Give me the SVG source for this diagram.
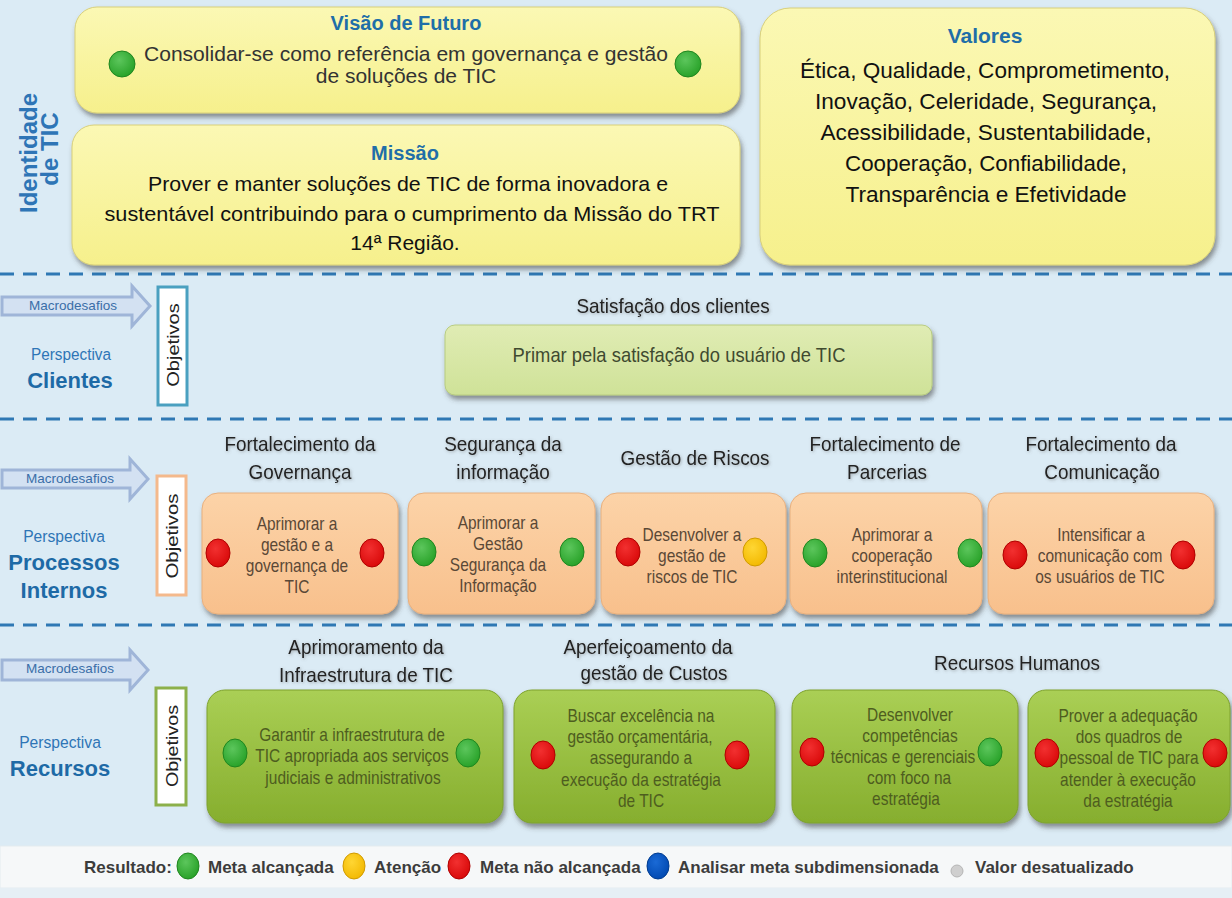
<svg xmlns="http://www.w3.org/2000/svg" width="1232" height="898" viewBox="0 0 1232 898">
<defs>
<linearGradient id="gY" x1="0" y1="0" x2="0" y2="1"><stop offset="0" stop-color="#fbf8b4"/><stop offset="1" stop-color="#f6f08c"/></linearGradient>
<linearGradient id="gO" x1="0" y1="0" x2="0" y2="1"><stop offset="0" stop-color="#fcd3a8"/><stop offset="1" stop-color="#f8c08c"/></linearGradient>
<linearGradient id="gG" x1="0" y1="0" x2="0" y2="1"><stop offset="0" stop-color="#aacf55"/><stop offset="1" stop-color="#86ae2e"/></linearGradient>
<linearGradient id="gL" x1="0" y1="0" x2="0" y2="1"><stop offset="0" stop-color="#e0ecb4"/><stop offset="1" stop-color="#cfe298"/></linearGradient>
<radialGradient id="cG" cx="0.4" cy="0.35" r="0.7"><stop offset="0" stop-color="#5cc65c"/><stop offset="1" stop-color="#26a026"/></radialGradient>
<radialGradient id="cR" cx="0.4" cy="0.35" r="0.7"><stop offset="0" stop-color="#f23030"/><stop offset="1" stop-color="#d80808"/></radialGradient>
<radialGradient id="cYe" cx="0.4" cy="0.35" r="0.7"><stop offset="0" stop-color="#ffd633"/><stop offset="1" stop-color="#f2b800"/></radialGradient>
<radialGradient id="cB" cx="0.4" cy="0.35" r="0.7"><stop offset="0" stop-color="#1a6ad6"/><stop offset="1" stop-color="#0048b0"/></radialGradient>
<filter id="sh" x="-5%" y="-5%" width="112%" height="120%"><feDropShadow dx="2" dy="4" stdDeviation="2.5" flood-color="#404040" flood-opacity="0.55"/></filter>
<filter id="tsh" x="-10%" y="-30%" width="120%" height="160%"><feDropShadow dx="1" dy="1" stdDeviation="1.5" flood-color="#606060" flood-opacity="0.5"/></filter>
</defs>
<style>
text{font-family:"Liberation Sans",Arial,sans-serif}
.ttl{font-weight:bold;fill:#1f6ea8;font-size:20px;text-anchor:middle}
.big{fill:#111;font-size:21px;text-anchor:middle}
.hdr{fill:#222;font-size:21px;text-anchor:middle;filter:url(#tsh)}
.pt{fill:#5a4836;font-size:18px;text-anchor:middle}
.rt{fill:#4e5d1f;font-size:18px;text-anchor:middle}
.persp{fill:#2e75b6;font-size:17px;text-anchor:middle}
.perspb{fill:#1e6aa6;font-size:22px;font-weight:bold;text-anchor:middle}
.macro{fill:#3a6ea8;font-size:13.5px;text-anchor:middle}
.obj{fill:#222;font-size:17px;text-anchor:middle}
.leg{fill:#3c3c3c;font-size:17px;font-weight:bold}
.dash{stroke:#2f78b4;stroke-width:3;stroke-dasharray:14 9;fill:none}
.arrow{fill:#d3e1f2;stroke:#9fb5d8;stroke-width:3}
.yb{fill:url(#gY);stroke:#d8cf7a;stroke-width:1;filter:url(#sh)}
.ob{fill:url(#gO);stroke:#e8b07e;stroke-width:1;filter:url(#sh)}
.gb{fill:url(#gG);stroke:#7ea22e;stroke-width:1;filter:url(#sh)}
.lb{fill:url(#gL);stroke:#b8cc80;stroke-width:1;filter:url(#sh)}
.g{fill:url(#cG);stroke:#1f861f;stroke-width:1}
.r{fill:url(#cR);stroke:#b00000;stroke-width:1}
.y{fill:url(#cYe);stroke:#d09a00;stroke-width:1}
.b{fill:url(#cB);stroke:#003c90;stroke-width:1}
</style>
<rect x="0" y="0" width="1232" height="898" fill="#dbebf5"/>
<rect x="0" y="846" width="1232" height="42" fill="#f6f8f9" stroke="#e4ecf0" stroke-width="1"/>
<rect x="0" y="888" width="1232" height="10" fill="#e6eff5"/>

<g id="separators">
<line class="dash" x1="0" y1="274" x2="1232" y2="274"/>
<line class="dash" x1="0" y1="419" x2="1232" y2="419"/>
<line class="dash" x1="0" y1="625" x2="1232" y2="625"/>
</g>

<g id="identidade">
<text transform="translate(37,153) rotate(-90)" style="font-weight:bold;fill:#2e75b6;font-size:24px;text-anchor:middle">Identidade</text>
<text transform="translate(58,149) rotate(-90)" style="font-weight:bold;fill:#2e75b6;font-size:24px;text-anchor:middle">de TIC</text>
</g>

<g id="visao">
<rect class="yb" x="75" y="7" width="665" height="106" rx="22"/>
<text class="ttl" x="406" y="30">Visão de Futuro</text>
<text class="big" x="406" y="61" textLength="524" lengthAdjust="spacingAndGlyphs" style="fill:#333">Consolidar-se como referência em governança e gestão</text>
<text class="big" x="406" y="83" style="fill:#333">de soluções de TIC</text>
<ellipse class="g" cx="122" cy="64" rx="13" ry="13"/>
<ellipse class="g" cx="688" cy="64" rx="13" ry="13"/>
</g>

<g id="missao">
<rect class="yb" x="72" y="125" width="668" height="140" rx="22"/>
<text class="ttl" x="405" y="160">Missão</text>
<text class="big" x="408" y="191" textLength="520" lengthAdjust="spacingAndGlyphs">Prover e manter soluções de TIC de forma inovadora e</text>
<text class="big" x="412" y="221" textLength="615" lengthAdjust="spacingAndGlyphs">sustentável contribuindo para o cumprimento da Missão do TRT</text>
<text class="big" x="405" y="250">14ª Região.</text>
</g>

<g id="valores">
<rect class="yb" x="760" y="8" width="455" height="257" rx="30"/>
<text class="ttl" x="985" y="43" style="font-size:21px">Valores</text>
<text class="big" x="985" y="78" style="font-size:22px" textLength="370" lengthAdjust="spacingAndGlyphs">Ética, Qualidade,  Comprometimento,</text>
<text class="big" x="986" y="109" style="font-size:22px" textLength="342" lengthAdjust="spacingAndGlyphs">Inovação,  Celeridade,  Segurança,</text>
<text class="big" x="986" y="140" style="font-size:22px" textLength="331" lengthAdjust="spacingAndGlyphs">Acessibilidade,  Sustentabilidade,</text>
<text class="big" x="986" y="171" style="font-size:22px" textLength="282" lengthAdjust="spacingAndGlyphs">Cooperação,  Confiabilidade,</text>
<text class="big" x="986" y="202" style="font-size:22px" textLength="281" lengthAdjust="spacingAndGlyphs">Transparência  e Efetividade</text>
</g>

<g id="connectors">
<path class="arrow" d="M2,297 H132 V286 L150,306 L132,326 V315 H2 Z"/>
<path class="arrow" d="M2,470 H130 V459 L148,479 L130,499 V488 H2 Z"/>
<path class="arrow" d="M2,660 H130 V650 L148,670 L130,690 V680 H2 Z"/>
</g>

<g id="clientes-label">
<text class="macro" x="73" y="310">Macrodesafios</text>
<text class="persp" transform="translate(71,360) scale(0.9,1)">Perspectiva</text>
<text class="perspb" x="70" y="388">Clientes</text>
<rect x="158" y="287" width="29" height="118" fill="#fff" stroke="#4aa0c0" stroke-width="3"/>
<text class="obj" transform="translate(179,345) rotate(-90) scale(1.18,1)">Objetivos</text>
</g>

<g id="satisfacao">
<text class="hdr" transform="translate(673,313) scale(0.9,1)">Satisfação dos clientes</text>
<rect class="lb" x="445" y="325" width="487" height="70" rx="10"/>
<text transform="translate(679,362) scale(0.92,1)" style="fill:#3f4a30;font-size:20px;text-anchor:middle">Primar pela satisfação do usuário de TIC</text>
</g>

<g id="processos-label">
<text class="macro" x="70" y="483">Macrodesafios</text>
<text class="persp" transform="translate(64,542) scale(0.92,1)">Perspectiva</text>
<text class="perspb" x="64" y="570">Processos</text>
<text class="perspb" x="64" y="598">Internos</text>
<rect x="157" y="476" width="29" height="119" fill="#fff" stroke="#f4b98c" stroke-width="3"/>
<text class="obj" transform="translate(178,536) rotate(-90) scale(1.2,1)">Objetivos</text>
</g>

<g id="governanca">
<text class="hdr" transform="translate(300,451) scale(0.9,1)">Fortalecimento da</text>
<text class="hdr" transform="translate(300,479) scale(0.9,1)">Governança</text>
<rect class="ob" x="202" y="493" width="196" height="121" rx="16"/>
<text class="pt" transform="translate(297,530) scale(0.86,1)">Aprimorar a</text>
<text class="pt" transform="translate(297,551) scale(0.86,1)">gestão e a</text>
<text class="pt" transform="translate(297,572) scale(0.86,1)">governança de</text>
<text class="pt" transform="translate(297,593) scale(0.86,1)">TIC</text>
<ellipse class="r" cx="218" cy="553" rx="12" ry="14"/>
<ellipse class="r" cx="372" cy="553" rx="12" ry="14"/>
</g>

<g id="seguranca">
<text class="hdr" transform="translate(503,451) scale(0.9,1)">Segurança da</text>
<text class="hdr" transform="translate(503,479) scale(0.9,1)">informação</text>
<rect class="ob" x="408" y="493" width="187" height="121" rx="16"/>
<text class="pt" transform="translate(498,529) scale(0.86,1)">Aprimorar a</text>
<text class="pt" transform="translate(498,550) scale(0.86,1)">Gestão</text>
<text class="pt" transform="translate(498,571) scale(0.86,1)">Segurança da</text>
<text class="pt" transform="translate(498,592) scale(0.86,1)">Informação</text>
<ellipse class="g" cx="424" cy="552" rx="12" ry="14"/>
<ellipse class="g" cx="572" cy="552" rx="12" ry="14"/>
</g>

<g id="riscos">
<text class="hdr" transform="translate(695,465) scale(0.9,1)">Gestão de Riscos</text>
<rect class="ob" x="601" y="493" width="185" height="121" rx="16"/>
<text class="pt" transform="translate(692,541) scale(0.86,1)">Desenvolver a</text>
<text class="pt" transform="translate(692,562) scale(0.86,1)">gestão de</text>
<text class="pt" transform="translate(692,583) scale(0.86,1)">riscos de TIC</text>
<ellipse class="r" cx="628" cy="552" rx="12" ry="14"/>
<ellipse class="y" cx="755" cy="552" rx="12" ry="14"/>
</g>

<g id="parcerias">
<text class="hdr" transform="translate(885,451) scale(0.9,1)">Fortalecimento de</text>
<text class="hdr" transform="translate(887,479) scale(0.9,1)">Parcerias</text>
<rect class="ob" x="790" y="493" width="192" height="121" rx="16"/>
<text class="pt" transform="translate(892,541) scale(0.86,1)">Aprimorar a</text>
<text class="pt" transform="translate(892,562) scale(0.86,1)">cooperação</text>
<text class="pt" transform="translate(892,583) scale(0.86,1)">interinstitucional</text>
<ellipse class="g" cx="815" cy="553" rx="12" ry="14"/>
<ellipse class="g" cx="970" cy="553" rx="12" ry="14"/>
</g>

<g id="comunicacao">
<text class="hdr" transform="translate(1101,451) scale(0.9,1)">Fortalecimento da</text>
<text class="hdr" transform="translate(1102,479) scale(0.9,1)">Comunicação</text>
<rect class="ob" x="988" y="493" width="226" height="121" rx="16"/>
<text class="pt" transform="translate(1101,541) scale(0.86,1)">Intensificar a</text>
<text class="pt" transform="translate(1100,562) scale(0.86,1)">comunicação com</text>
<text class="pt" transform="translate(1100,583) scale(0.86,1)">os usuários de TIC</text>
<ellipse class="r" cx="1015" cy="555" rx="12" ry="14"/>
<ellipse class="r" cx="1183" cy="555" rx="12" ry="14"/>
</g>

<g id="recursos-label">
<text class="macro" x="70" y="673">Macrodesafios</text>
<text class="persp" transform="translate(60,748) scale(0.92,1)">Perspectiva</text>
<text class="perspb" x="60" y="776">Recursos</text>
<rect x="156" y="688" width="30" height="117" fill="#fff" stroke="#8cb04a" stroke-width="3"/>
<text class="obj" transform="translate(178,746) rotate(-90) scale(1.16,1)">Objetivos</text>
</g>

<g id="infraestrutura">
<text class="hdr" transform="translate(366,654) scale(0.9,1)">Aprimoramento da</text>
<text class="hdr" transform="translate(366,682) scale(0.9,1)">Infraestrutura de TIC</text>
<rect class="gb" x="207" y="690" width="296" height="133" rx="18"/>
<text class="rt" transform="translate(352,741) scale(0.86,1)">Garantir a infraestrutura de</text>
<text class="rt" transform="translate(352,762) scale(0.86,1)">TIC apropriada aos serviços</text>
<text class="rt" transform="translate(353,784) scale(0.86,1)">judiciais e administrativos</text>
<ellipse class="g" cx="235" cy="753" rx="12" ry="14"/>
<ellipse class="g" cx="468" cy="753" rx="12" ry="14"/>
</g>

<g id="custos">
<text class="hdr" transform="translate(648,654) scale(0.9,1)">Aperfeiçoamento da</text>
<text class="hdr" transform="translate(654,680) scale(0.9,1)">gestão de Custos</text>
<rect class="gb" x="514" y="690" width="261" height="133" rx="18"/>
<text class="rt" transform="translate(641,722) scale(0.86,1)">Buscar excelência na</text>
<text class="rt" transform="translate(640,743) scale(0.86,1)">gestão orçamentária,</text>
<text class="rt" transform="translate(641,764) scale(0.86,1)">assegurando a</text>
<text class="rt" transform="translate(641,786) scale(0.86,1)">execução da estratégia</text>
<text class="rt" transform="translate(641,807) scale(0.86,1)">de TIC</text>
<ellipse class="r" cx="543" cy="755" rx="12" ry="14"/>
<ellipse class="r" cx="737" cy="755" rx="12" ry="14"/>
</g>

<g id="rh-label">
<text class="hdr" transform="translate(1017,670) scale(0.9,1)">Recursos Humanos</text>
</g>

<g id="competencias">
<rect class="gb" x="792" y="690" width="226" height="133" rx="18"/>
<text class="rt" transform="translate(910,721) scale(0.86,1)">Desenvolver</text>
<text class="rt" transform="translate(910,742) scale(0.86,1)">competências</text>
<text class="rt" transform="translate(903,763) scale(0.86,1)">técnicas e gerenciais</text>
<text class="rt" transform="translate(909,784) scale(0.86,1)">com foco na</text>
<text class="rt" transform="translate(906,805) scale(0.86,1)">estratégia</text>
<ellipse class="r" cx="812" cy="752" rx="12" ry="14"/>
<ellipse class="g" cx="990" cy="752" rx="12" ry="14"/>
</g>

<g id="quadros">
<rect class="gb" x="1028" y="690" width="202" height="133" rx="18"/>
<text class="rt" transform="translate(1128,722) scale(0.86,1)">Prover a adequação</text>
<text class="rt" transform="translate(1129,743) scale(0.86,1)">dos quadros de</text>
<text class="rt" transform="translate(1129,764) scale(0.86,1)">pessoal de TIC para</text>
<text class="rt" transform="translate(1128,786) scale(0.86,1)">atender à execução</text>
<text class="rt" transform="translate(1128,807) scale(0.86,1)">da estratégia</text>
<ellipse class="r" cx="1047" cy="753" rx="12" ry="14"/>
<ellipse class="r" cx="1215" cy="753" rx="12" ry="14"/>
</g>

<g id="legenda">
<text class="leg" x="84" y="873">Resultado:</text>
<ellipse class="g" cx="188" cy="866" rx="11" ry="13"/>
<text class="leg" x="208" y="873">Meta alcançada</text>
<ellipse class="y" cx="354" cy="866" rx="11" ry="13"/>
<text class="leg" x="374" y="873">Atenção</text>
<ellipse class="r" cx="459" cy="866" rx="11" ry="13"/>
<text class="leg" x="480" y="873">Meta não alcançada</text>
<ellipse class="b" cx="658" cy="866" rx="11" ry="13"/>
<text class="leg" x="678" y="873">Analisar meta subdimensionada</text>
<ellipse cx="957" cy="871" rx="6" ry="6" fill="#cfcfcf" stroke="#b5b5b5" stroke-width="1"/>
<text class="leg" x="975" y="873">Valor desatualizado</text>
</g>
</svg>
